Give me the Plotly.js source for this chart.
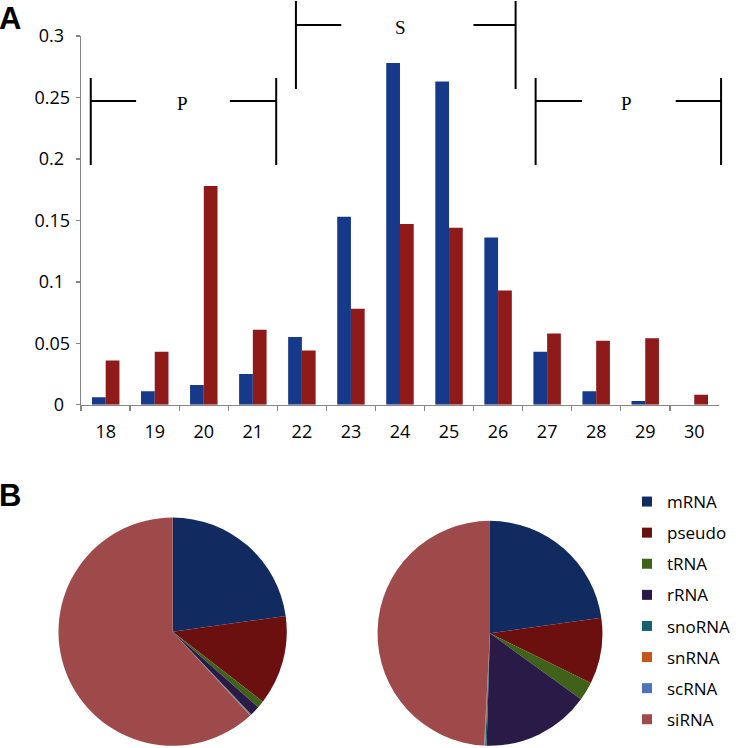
<!DOCTYPE html>
<html>
<head>
<meta charset="utf-8">
<script src="https://cdn.plot.ly/plotly-3.0.1.min.js"></script>
<style>html,body{margin:0;padding:0;background:#fff;}#chart{width:736px;height:748px;}</style>
</head>
<body>
<div id="chart"></div>
<script>
// ---- data ----
const lengths = ['18','19','20','21','22','23','24','25','26','27','28','29','30'];
const seriesBlue = [0.006, 0.011, 0.016, 0.025, 0.055, 0.153, 0.278, 0.263, 0.136, 0.043, 0.011, 0.003, 0.0];
const seriesRed  = [0.036, 0.043, 0.178, 0.061, 0.044, 0.078, 0.147, 0.144, 0.093, 0.058, 0.052, 0.054, 0.008];
const yTickVals  = [0, 0.05, 0.1, 0.15, 0.2, 0.25, 0.3];
const yTickText  = ['0\u2004', '0.05', '0.1\u2004', '0.15', '0.2\u2004', '0.25', '0.3\u2004'];
const rnaLabels  = ['mRNA','pseudo','tRNA','rRNA','snoRNA','snRNA','scRNA','siRNA'];
const pieLeft    = [22.8, 12.7, 1.0, 1.4, 0.1, 0.05, 0.05, 61.9];
const pieRight   = [22.8, 9.5, 2.7, 15.5, 0.2, 0.1, 0.05, 49.2];
const regionLabels = ['P', 'S', 'P'];

// ---- styles ----
const W = 736, H = 748;
const px = x => x / W;
const py = y => 1 - y / H;
const pieColors = ['#112B60','#6B0F0F','#3F6118','#2A1A47','#166070','#C4561A','#4F72BA','#9E4A4A'];
const tickFont = {family: 'Open Sans, sans-serif', size: 18, color: '#000'};
const axisGray = '#868686';

const traces = [
  {type: 'bar', x: lengths, y: seriesBlue, marker: {color: '#17398A'}, showlegend: false, hoverinfo: 'skip'},
  {type: 'bar', x: lengths, y: seriesRed,  marker: {color: '#8E1A1A'}, showlegend: false, hoverinfo: 'skip'},
  {type: 'pie', labels: rnaLabels, values: pieLeft, sort: false, direction: 'clockwise', rotation: 0,
   marker: {colors: pieColors, line: {width: 0}}, textinfo: 'none', showlegend: false,
   domain: {x: [px(59.3), px(290.7)], y: [py(747.4), py(516)]}},
  {type: 'pie', labels: rnaLabels, values: pieRight, sort: false, direction: 'clockwise', rotation: 0,
   marker: {colors: pieColors, line: {width: 0}}, textinfo: 'none', showlegend: false,
   domain: {x: [px(382.7), px(610.7)], y: [py(747.3), py(519.3)]}}
];
// legend entries (one per RNA class, same colours as the slices)
rnaLabels.forEach((lab, i) => {
  traces.push({type: 'scatter', mode: 'markers', x: [null], y: [null], name: lab, legendgroup: lab,
    marker: {symbol: 'square', size: 10, color: pieColors[i]}, hoverinfo: 'skip'});
});

// bracket shapes
const shapes = [];
function seg(x0, y0, x1, y1) {
  shapes.push({type: 'line', xref: 'paper', yref: 'paper', x0: px(x0), y0: py(y0), x1: px(x1), y1: py(y1),
    line: {color: '#000', width: 2}});
}
function bracket(xl, xr, yTop, yBot, yMid, gapL, gapR) {
  seg(xl, yTop, xl, yBot); seg(xl, yMid, gapL, yMid);
  seg(gapR, yMid, xr, yMid); seg(xr, yTop, xr, yBot);
}
bracket(92, 280, 78, 165, 101, 138, 233);
bracket(300, 522.7, 1, 89, 25, 346, 480);
bracket(543, 731, 78, 165, 101, 590, 685);

const serif = {family: 'Liberation Serif, Times New Roman, serif', size: 19, color: '#000'};
function note(text, x, y, font, xanchor) {
  return {text: text, x: px(x), y: py(y), xref: 'paper', yref: 'paper', xanchor: xanchor || 'center',
    yanchor: 'middle', showarrow: false, font: font};
}
const boldSans = {family: 'Liberation Sans, Arial, sans-serif', size: 31, color: '#000'};
const annotations = [
  note(regionLabels[0], 185, 103, serif),
  note(regionLabels[1], 406, 27, serif),
  note(regionLabels[2], 635, 103, serif),
  note('<b>A</b>', -3, 19, boldSans, 'left'),
  note('<b>B</b>', -3, 495, boldSans, 'left')
];

const layout = {
  width: W, height: H,
  margin: {l: 0, r: 0, t: 0, b: 0},
  paper_bgcolor: '#fff', plot_bgcolor: '#fff',
  barmode: 'group', bargap: 0.44, bargroupgap: 0,
  xaxis: {domain: [px(82.3), px(728.7)], type: 'category', tickson: 'boundaries', ticks: 'outside',
    ticklen: 5, tickcolor: axisGray, tickwidth: 1.5, showline: true, linecolor: axisGray, linewidth: 1.5,
    showgrid: false, zeroline: false, tickfont: tickFont, ticklabelstandoff: 10, fixedrange: true},
  yaxis: {domain: [py(404.7), py(36)], range: [0, 0.3], tickvals: yTickVals, ticktext: yTickText,
    ticks: 'outside', ticklen: 4, tickcolor: axisGray, tickwidth: 1.5, showline: true, linecolor: axisGray,
    linewidth: 1.5, showgrid: false, zeroline: false, tickfont: tickFont, ticklabelstandoff: 2, fixedrange: true},
  showlegend: true,
  legend: {x: px(636), y: py(484), xanchor: 'left', yanchor: 'top', traceorder: 'grouped', tracegroupgap: 6,
    font: {family: 'Open Sans, sans-serif', size: 17, color: '#000'}, bgcolor: 'rgba(0,0,0,0)'},
  shapes: shapes,
  annotations: annotations
};

Plotly.newPlot('chart', traces, layout, {staticPlot: true, displayModeBar: false});
</script>
</body>
</html>
